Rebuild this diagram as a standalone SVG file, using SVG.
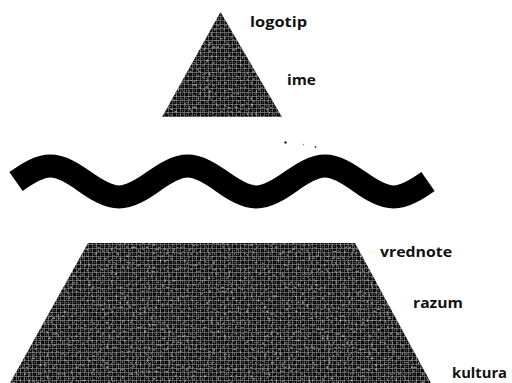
<svg xmlns="http://www.w3.org/2000/svg" width="512" height="383" viewBox="0 0 512 383">
  <defs>
    <pattern id="halftone" width="8" height="8" patternUnits="userSpaceOnUse">
      <rect width="8" height="8" fill="#0e0e0e"/>
      <rect x="0" y="0" width="8" height="1" fill="#a8a8a8" opacity="0.5"/>
      <rect x="0" y="4" width="8" height="1" fill="#b8b8b8" opacity="0.4"/>
      <rect x="0" y="0" width="1" height="8" fill="#a8a8a8" opacity="0.45"/>
      <rect x="4" y="0" width="1" height="8" fill="#c0c0c0" opacity="0.35"/>
      <rect x="2" y="2" width="1" height="1" fill="#dddddd" opacity="0.5"/>
      <rect x="6" y="6" width="1" height="1" fill="#dddddd" opacity="0.4"/>
    </pattern>
    <filter id="grain" x="0" y="0" width="100%" height="100%">
      <feTurbulence type="fractalNoise" baseFrequency="0.45" numOctaves="1" seed="3" result="n"/>
      <feColorMatrix in="n" type="matrix" values="0 0 0 0 1  0 0 0 0 1  0 0 0 0 1  0 0 0 1.6 -0.95" result="w"/>
      <feComposite in="w" in2="SourceGraphic" operator="in" result="wc"/>
      <feMerge><feMergeNode in="SourceGraphic"/><feMergeNode in="wc"/></feMerge>
    </filter>
  </defs>
  <style>
    .shape { fill: url(#halftone); }
    .lbl { font-family: "Open Sans", "Liberation Sans", sans-serif; font-size: 14px; font-weight: 700; fill: #111; }
    .wave { fill: none; stroke: #000; stroke-width: 23; stroke-linecap: butt; }
  </style>

  <g id="top-pyramid">
    <polygon class="shape" filter="url(#grain)" points="220.5,12 282,117 162,117"/>
  </g>

  <g id="wave-line">
    <path class="wave" d="M16,181.5 C27.19,173.56 38.89,166 50.33,166 S73.48,173.56 84.67,181.5 S107.81,197 119,197 S142.14,189.44 153.33,181.5 S176.48,166 187.67,166 S210.81,173.56 222,181.5 S245.14,197 256.33,197 S279.48,189.44 290.67,181.5 S313.81,166 325,166 S348.14,173.56 359.33,181.5 S382.48,197 393.67,197 S416.81,189.44 428,181.5"/>
    <circle cx="285.5" cy="142.5" r="1.2" fill="#222"/>
    <circle cx="303.5" cy="144.5" r="0.7" fill="#888"/>
    <circle cx="315.5" cy="147" r="0.9" fill="#444"/>
  </g>

  <g id="bottom-pyramid">
    <polygon class="shape" filter="url(#grain)" points="88,243 355,243 431,383 10,383"/>
  </g>

  <g id="labels">
    <text class="lbl" x="250" y="27" textLength="57" lengthAdjust="spacingAndGlyphs">logotip</text>
    <text class="lbl" x="287" y="85" textLength="29" lengthAdjust="spacingAndGlyphs">ime</text>
    <text class="lbl" x="380" y="257" textLength="72" lengthAdjust="spacingAndGlyphs">vrednote</text>
    <text class="lbl" x="413" y="308" textLength="50" lengthAdjust="spacingAndGlyphs">razum</text>
    <text class="lbl" x="452" y="378" textLength="55" lengthAdjust="spacingAndGlyphs">kultura</text>
  </g>
</svg>
